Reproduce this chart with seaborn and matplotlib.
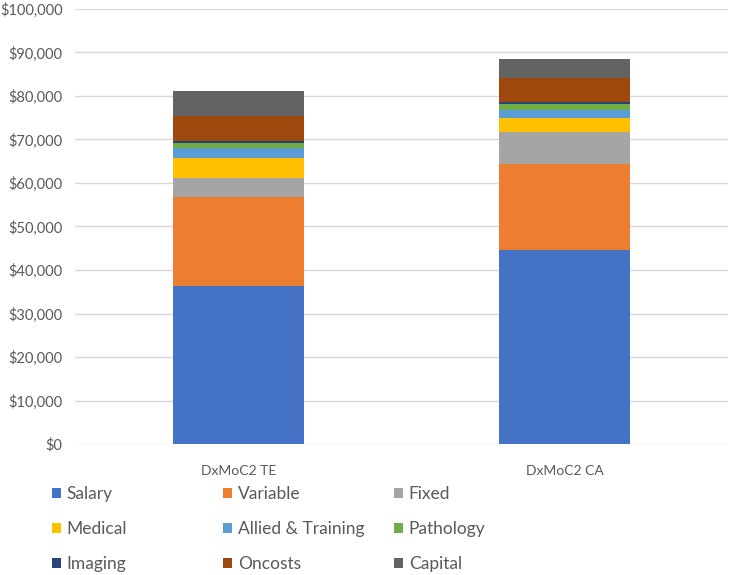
import matplotlib
matplotlib.use("Agg")
import matplotlib.pyplot as plt
from matplotlib.patches import Patch
from matplotlib.ticker import FuncFormatter
import seaborn as sns
import numpy as np

categories = ["DxMoC2 TE", "DxMoC2 CA"]
components = ["Salary", "Variable", "Fixed", "Medical", "Allied & Training",
              "Pathology", "Imaging", "Oncosts", "Capital"]
salary = [36300, 44500]
variable = [20550, 19850]
fixed = [4400, 7350]
medical = [4600, 3300]
allied = [2300, 1750]
pathology = [1150, 1400]
imaging = [380, 400]
oncosts = [5750, 5650]
capital = [5800, 4200]
series = [salary, variable, fixed, medical, allied, pathology, imaging, oncosts, capital]
colors = ["#4472C4", "#ED7D31", "#A5A5A5", "#FFC000", "#5B9BD5",
          "#70AD47", "#264478", "#9E480E", "#636363"]

sns.set_theme(style="white")
plt.rcParams['font.family'] = ['Lato', 'DejaVu Sans']

fig = plt.figure(figsize=(7.34, 5.75), dpi=100)
ax = fig.add_axes([75/734, 131/575, 653/734, 435/575])

bottom = np.zeros(len(categories))
for name, vals, c in zip(components, series, colors):
    sns.barplot(x=categories, y=vals, bottom=bottom, color=c, width=0.4,
                ax=ax, linewidth=0, saturation=1, zorder=3)
    bottom = bottom + np.array(vals)

ax.set_ylim(0, 100000)
ax.set_yticks(np.arange(0, 100001, 10000))
ax.yaxis.set_major_formatter(FuncFormatter(lambda v, p: f"${int(v):,}"))
ax.grid(axis='y', color='#D9D9D9', linewidth=1, zorder=0)
ax.grid(axis='x', visible=False)
for s in ax.spines.values():
    s.set_visible(False)
ax.tick_params(axis='y', length=0, labelsize=10.5, colors='#595959', pad=9)
ax.tick_params(axis='x', length=0, labelsize=10, colors='#595959', pad=15)
ax.set_xlabel("")
ax.set_ylabel("")

# legend: 3 columns, row-wise order
col_x = [45/734, 216/734, 387/734]
for ci in range(3):
    idx = [ci, ci + 3, ci + 6]
    handles = [Patch(facecolor=colors[i], edgecolor='none') for i in idx]
    labels = [components[i] for i in idx]
    fig.legend(handles, labels, loc='upper left',
               bbox_to_anchor=(col_x[ci], 1 - 479/575),
               frameon=False, fontsize=12.5, handlelength=0.5, handleheight=0.5,
               handletextpad=0.35, labelspacing=1.1, borderaxespad=0,
               labelcolor='#595959')

fig.savefig("out.png", dpi=100)
